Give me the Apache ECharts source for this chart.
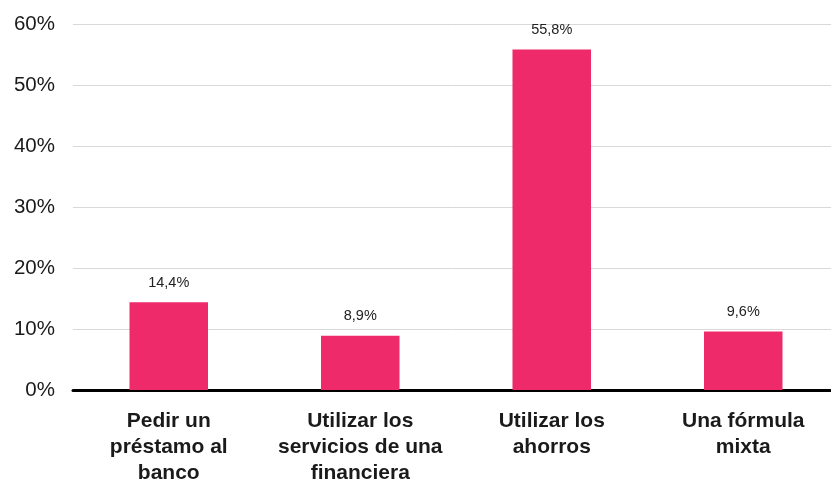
<!DOCTYPE html>
<html>
<head>
<meta charset="utf-8">
<script src="https://cdn.jsdelivr.net/npm/echarts@6/dist/echarts.min.js"></script>
<style>
  html, body { margin: 0; padding: 0; background: #fff; }
  #chart { width: 831px; height: 485px; }
</style>
</head>
<body>
<div id="chart"></div>
<script>
const categories = ['Pedir un\npréstamo al\nbanco', 'Utilizar los\nservicios de una\nfinanciera', 'Utilizar los\nahorros', 'Una fórmula\nmixta'];
const values = [14.4, 8.9, 55.8, 9.6];

const chart = echarts.init(document.getElementById('chart'));
chart.setOption({
  animation: false,
  textStyle: { fontFamily: 'Liberation Sans, Arial, sans-serif' },
  grid: { left: 73, width: 766, top: 24, height: 366, outerBoundsMode: 'none', containLabel: false },
  xAxis: {
    type: 'category',
    data: categories,
    axisLine: { lineStyle: { color: '#000', width: 3 } },
    axisTick: { show: false },
    axisLabel: {
      color: '#1a1a1a', fontSize: 21, fontWeight: 'bold', lineHeight: 26,
      margin: 18, interval: 0
    }
  },
  yAxis: {
    type: 'value',
    min: 0, max: 60, interval: 10,
    axisLine: { show: false },
    axisTick: { show: false },
    splitLine: { lineStyle: { color: '#d9d9d9', width: 1 } },
    axisLabel: { color: '#1a1a1a', fontSize: 20.5, margin: 18, formatter: '{value}%' }
  },
  series: [{
    type: 'bar',
    data: values,
    barWidth: '41%',
    itemStyle: { color: '#ee2a6b' },
    label: {
      show: true, position: 'top', distance: 12,
      color: '#222', fontSize: 14.5,
      formatter: p => String(p.value.toFixed(1)).replace('.', ',') + '%'
    }
  }]
});
</script>
</body>
</html>
